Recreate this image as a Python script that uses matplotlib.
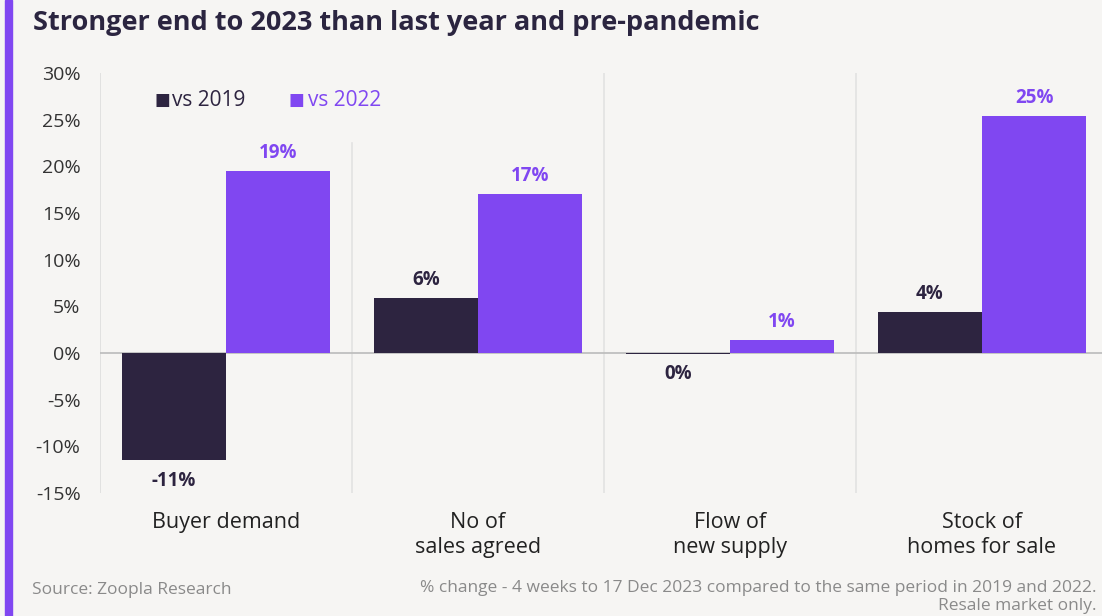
import matplotlib.pyplot as plt
from matplotlib.patches import Rectangle

plt.rcParams['font.family'] = ['Open Sans', 'DejaVu Sans']

categories = ["Buyer demand", "No of\nsales agreed", "Flow of\nnew supply", "Stock of\nhomes for sale"]
vs_2019 = [-11.5, 5.9, -0.1, 4.4]
vs_2022 = [19.5, 17.0, 1.4, 25.4]
labels_2019 = ["-11%", "6%", "0%", "4%"]
labels_2022 = ["19%", "17%", "1%", "25%"]
yticks = [-15, -10, -5, 0, 5, 10, 15, 20, 25, 30]

dark = "#2D2440"
purple = "#8047F1"
bg = "#F6F5F3"
grey = "#8A8A8A"

W, H = 1102, 616
fig = plt.figure(figsize=(W / 100, H / 100), dpi=100, facecolor=bg)
ax = fig.add_axes([100 / W, 1 - 493 / H, 1002 / W, 420 / H], facecolor=bg)

x = list(range(len(categories)))
bw = 0.415
ax.bar([i - 0.207 for i in x], vs_2019, width=bw, color=dark, zorder=3)
ax.bar([i + 0.207 for i in x], vs_2022, width=bw, color=purple, zorder=3)

for i in x:
    v = vs_2019[i]
    if v <= 0:
        ax.text(i - 0.207, v - 1.1, labels_2019[i], ha="center", va="top",
                fontsize=13.5, fontweight="bold", color=dark)
    else:
        ax.text(i - 0.207, v + 0.9, labels_2019[i], ha="center", va="bottom",
                fontsize=13.5, fontweight="bold", color=dark)
    ax.text(i + 0.207, vs_2022[i] + 0.9, labels_2022[i], ha="center", va="bottom",
            fontsize=13.5, fontweight="bold", color=purple)

ax.set_ylim(-15, 30)
ax.set_xlim(-0.5, -0.5 + 1002 / 252)
ax.set_yticks(yticks)
ax.set_yticklabels([f"{t}%" for t in yticks], fontsize=14, color="#333333")
ax.tick_params(axis="y", length=0, pad=14)
ax.set_xticks(x)
ax.set_xticklabels(categories, fontsize=15.5, color="#222222", linespacing=1.2)
ax.tick_params(axis="x", length=0, pad=14)
for s in ax.spines.values():
    s.set_visible(False)

ax.axhline(0, color="#BBBBBB", lw=1.2, zorder=2)
ax.axvline(-0.5, color="#DDDDDD", lw=1.2, zorder=1)
ax.plot([0.5, 0.5], [-15, 22.5], color="#E2E2E2", lw=1.2, zorder=1)
ax.axvline(1.5, color="#E2E2E2", lw=1.2, zorder=1)
ax.axvline(2.5, color="#E2E2E2", lw=1.2, zorder=1)

# left purple strip
fig.patches.append(Rectangle((5 / W, 0), 7 / W, 1, transform=fig.transFigure,
                             color=purple, zorder=5))

fig.text(33 / W, 1 - 23 / H, "Stronger end to 2023 than last year and pre-pandemic",
         fontsize=19.5, fontweight="bold", color="#2B2540", va="center")

# legend
fig.text(154 / W, 1 - 101 / H, "\u25A0", fontsize=12, color=dark, va="center")
fig.text(172 / W, 1 - 101 / H, "vs 2019", fontsize=15, color=dark, va="center")
fig.text(289 / W, 1 - 101 / H, "\u25A0", fontsize=12, color=purple, va="center")
fig.text(308 / W, 1 - 101 / H, "vs 2022", fontsize=15, color=purple, va="center")

fig.text(32 / W, 1 - 590 / H, "Source: Zoopla Research", fontsize=12.5, color=grey, va="center")
fig.text(1097 / W, 1 - 588 / H,
         "% change - 4 weeks to 17 Dec 2023 compared to the same period in 2019 and 2022.",
         fontsize=12.5, color=grey, va="center", ha="right")
fig.text(1097 / W, 1 - 606 / H, "Resale market only.", fontsize=12.5, color=grey,
         va="center", ha="right")

fig.savefig("out.png", dpi=100, facecolor=bg)
